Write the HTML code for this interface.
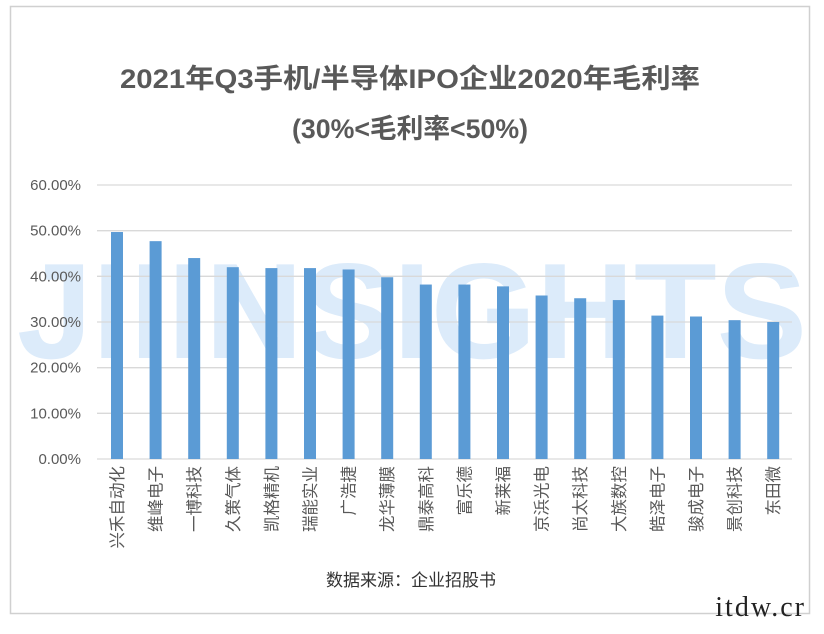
<!DOCTYPE html>
<html><head><meta charset="utf-8"><style>
html,body{margin:0;padding:0;background:#fff;}
</style></head><body>
<svg width="824" height="629" xmlns="http://www.w3.org/2000/svg" font-family="Liberation Sans, Noto Sans CJK SC, sans-serif">
<rect x="0" y="0" width="824" height="629" fill="#fff"/>
<rect x="10.5" y="6.5" width="799" height="607" fill="none" stroke="#d0d0d0" stroke-width="1.5"/>
<text x="410" y="88" text-anchor="middle" font-size="27" font-weight="bold" fill="#595959" textLength="580" lengthAdjust="spacingAndGlyphs">2021年Q3手机/半导体IPO企业2020年毛利率</text>
<text x="410" y="138" text-anchor="middle" font-size="27" font-weight="bold" fill="#595959" textLength="236" lengthAdjust="spacingAndGlyphs">(30%&lt;毛利率&lt;50%)</text>
<text x="412" y="358" text-anchor="middle" font-size="136" font-weight="bold" fill="#dcebfa" textLength="790" lengthAdjust="spacingAndGlyphs">JIIINSIGHTS</text>
<g stroke="#d9d9d9" stroke-width="1.3">
<line x1="97" x2="792" y1="185" y2="185"/><line x1="97" x2="792" y1="230.7" y2="230.7"/>
<line x1="97" x2="792" y1="276.3" y2="276.3"/><line x1="97" x2="792" y1="322" y2="322"/>
<line x1="97" x2="792" y1="367.7" y2="367.7"/><line x1="97" x2="792" y1="413.3" y2="413.3"/>
<line x1="97" x2="792" y1="459" y2="459"/></g>
<g font-size="15" fill="#595959" text-anchor="end">
<text x="81" y="190">60.00%</text><text x="81" y="235.7">50.00%</text><text x="81" y="281.3">40.00%</text>
<text x="81" y="327">30.00%</text><text x="81" y="372.7">20.00%</text><text x="81" y="418.3">10.00%</text><text x="81" y="464">0.00%</text></g>
<g fill="#5b9bd5" id="bars"></g>
<g font-size="16.5" fill="#595959" id="labs"></g>
<text x="411" y="586" text-anchor="middle" font-size="17" fill="#333">数据来源：企业招股书</text>
<text x="806" y="616" text-anchor="end" font-size="28" font-family="Liberation Serif, serif" fill="#222" letter-spacing="2">itdw.cr</text>
<script>
var v=[49.7,47.7,44,42,41.8,41.8,41.5,39.8,38.2,38.2,37.8,35.8,35.2,34.8,31.4,31.2,30.4,30.0];
var n=["兴禾自动化","维峰电子","一博科技","久策气体","凯格精机","瑞能实业","广浩捷","龙华薄膜","鼎泰高科","富乐德","新莱福","京浜光电","尚太科技","大族数控","皓泽电子","骏成电子","景创科技","东田微"];
var b=document.getElementById('bars'),l=document.getElementById('labs'),ns="http://www.w3.org/2000/svg";
for(var i=0;i<18;i++){var cx=117+i*38.6,h=v[i]*4.567;
var r=document.createElementNS(ns,'rect');r.setAttribute('x',cx-6);r.setAttribute('width',12);r.setAttribute('y',459-h);r.setAttribute('height',h);b.appendChild(r);
var t=document.createElementNS(ns,'text');t.setAttribute('transform','translate('+(cx+6)+',466) rotate(-90)');t.setAttribute('text-anchor','end');t.textContent=n[i];l.appendChild(t);}
</script>
</svg>
</body></html>
